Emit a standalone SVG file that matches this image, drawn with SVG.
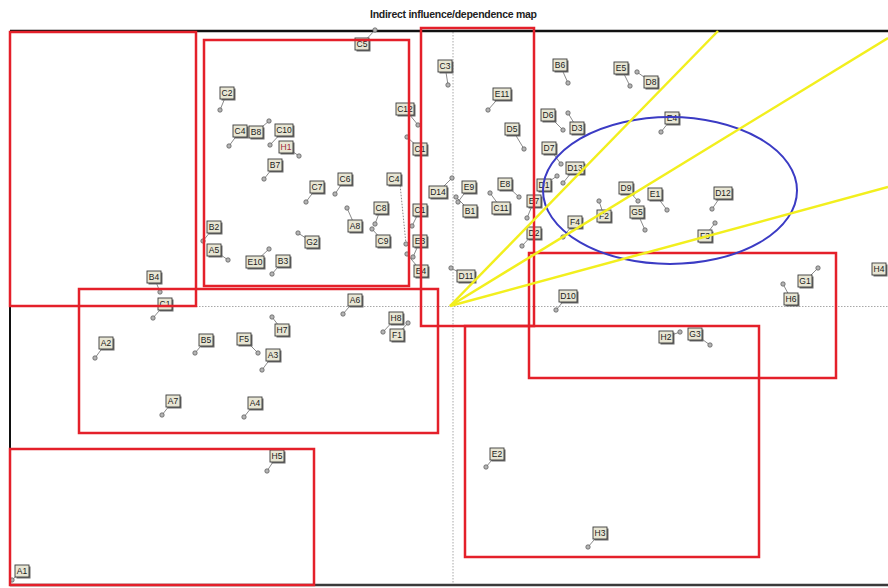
<svg xmlns="http://www.w3.org/2000/svg" xmlns:xlink="http://www.w3.org/1999/xlink" width="888" height="588" viewBox="0 0 888 588">
<style>
.title{font-family:"Liberation Sans",Arial,sans-serif;font-weight:bold;font-size:10.5px;fill:#222}
.axis{stroke:#a8a8a8;stroke-width:1;stroke-dasharray:1.5 1.5;fill:none}
.frame{stroke:#111;stroke-width:2.5;fill:none}
.zone{fill:none;stroke:#e4202a;stroke-width:2.5}
.ell{fill:none;stroke:#3b3bc4;stroke-width:2}
.ray{stroke:#f2ef1e;stroke-width:2.5}
.ld{stroke:#8a8a8a;stroke-width:1}
.ldd{stroke:#8a8a8a;stroke-width:1;stroke-dasharray:1.5 1.5}
.pt{fill:#b4b4b4;stroke:#555;stroke-width:0.7}
.sh{fill:#6e6e6e}
.bx{fill:#e8e6d4;stroke:#3a3a3a;stroke-width:0.9}
.node text{font-family:"Liberation Sans",Arial,sans-serif;font-size:8.5px;fill:#1a1a1a;text-anchor:middle}
.red text{fill:#a02838}
</style>
<defs>
<g id="b2"><rect class="sh" x="-5.5" y="-4.5" width="14" height="12"/><rect class="bx" x="-7" y="-6" width="14" height="12"/></g>
<g id="b3"><rect class="sh" x="-7.5" y="-4.5" width="18" height="12"/><rect class="bx" x="-9" y="-6" width="18" height="12"/></g>
</defs>
<rect width="888" height="588" fill="#fff"/>
<text class="title" x="370" y="18" textLength="167">Indirect influence/dependence map</text>
<g id="axes">
<line class="axis" x1="453" y1="32" x2="453" y2="584"/>
<line class="axis" x1="10" y1="306.5" x2="888" y2="306.5"/>
</g>
<g id="frame">
<line class="frame" x1="10" y1="31" x2="888" y2="31"/>
<line x1="10" y1="31" x2="10" y2="586" stroke="#111" stroke-width="2"/>
<line x1="10" y1="585" x2="888" y2="585" stroke="#3a3a3a" stroke-width="2.5"/>
</g>
<g id="connectors">
<line class="ld" x1="375" y1="30" x2="362" y2="44"/>
<line class="ld" x1="448" y1="85" x2="445" y2="66"/>
<line class="ld" x1="568" y1="83" x2="560" y2="65"/>
<line class="ld" x1="630" y1="86" x2="621" y2="68"/>
<line class="ld" x1="637" y1="72" x2="651" y2="82"/>
<line class="ld" x1="488" y1="110" x2="502" y2="94"/>
<line class="ld" x1="418" y1="125" x2="405" y2="109"/>
<line class="ld" x1="563" y1="130" x2="548" y2="115"/>
<line class="ld" x1="568" y1="113" x2="577" y2="128"/>
<line class="ld" x1="524" y1="149" x2="512" y2="129"/>
<line class="ld" x1="561" y1="164" x2="549" y2="148"/>
<line class="ld" x1="661" y1="132" x2="672" y2="118"/>
<line class="ld" x1="220" y1="110" x2="227" y2="93"/>
<line class="ld" x1="229" y1="146" x2="240" y2="131"/>
<line class="ld" x1="269" y1="121" x2="256" y2="132"/>
<line class="ld" x1="270" y1="145" x2="284" y2="130"/>
<line class="ld" x1="299" y1="156" x2="286" y2="147"/>
<line class="ld" x1="264" y1="179" x2="275" y2="165"/>
<line class="ld" x1="407" y1="137" x2="420" y2="149"/>
<line class="ld" x1="563" y1="183" x2="575" y2="168"/>
<line class="ld" x1="557" y1="176" x2="544" y2="185"/>
<line class="ld" x1="638" y1="201" x2="626" y2="188"/>
<line class="ld" x1="667" y1="210" x2="655" y2="194"/>
<line class="ld" x1="712" y1="209" x2="723" y2="193"/>
<line class="ld" x1="645" y1="230" x2="637" y2="212"/>
<line class="ld" x1="599" y1="201" x2="604" y2="216"/>
<line class="ld" x1="563" y1="237" x2="575" y2="222"/>
<line class="ld" x1="715" y1="223" x2="705" y2="236"/>
<line class="ld" x1="519" y1="197" x2="505" y2="184"/>
<line class="ld" x1="458" y1="202" x2="469" y2="187"/>
<line class="ld" x1="452" y1="178" x2="438" y2="192"/>
<line class="ld" x1="456" y1="197" x2="470" y2="211"/>
<line class="ld" x1="490" y1="193" x2="501" y2="208"/>
<line class="ld" x1="527" y1="218" x2="534" y2="201"/>
<line class="ld" x1="522" y1="246" x2="534" y2="233"/>
<line class="ld" x1="306" y1="202" x2="317" y2="187"/>
<line class="ld" x1="335" y1="194" x2="345" y2="179"/>
<line class="ldd" x1="406" y1="244" x2="400" y2="184"/>
<line class="ld" x1="375" y1="224" x2="381" y2="208"/>
<line class="ld" x1="347" y1="208" x2="355" y2="226"/>
<line class="ld" x1="372" y1="229" x2="383" y2="241"/>
<line class="ld" x1="412" y1="226" x2="420" y2="210"/>
<line class="ld" x1="413" y1="257" x2="420" y2="241"/>
<line class="ld" x1="407" y1="254" x2="421" y2="271"/>
<line class="ld" x1="298" y1="233" x2="312" y2="242"/>
<line class="ld" x1="203" y1="241" x2="214" y2="227"/>
<line class="ld" x1="228" y1="260" x2="214" y2="250"/>
<line class="ld" x1="269" y1="249" x2="255" y2="262"/>
<line class="ld" x1="272" y1="274" x2="283" y2="261"/>
<line class="ld" x1="451" y1="268" x2="466" y2="276"/>
<line class="ld" x1="160" y1="292" x2="154" y2="277"/>
<line class="ld" x1="153" y1="318" x2="165" y2="304"/>
<line class="ld" x1="343" y1="314" x2="355" y2="300"/>
<line class="ld" x1="383" y1="332" x2="396" y2="318"/>
<line class="ld" x1="408" y1="323" x2="397" y2="335"/>
<line class="ld" x1="272" y1="317" x2="282" y2="330"/>
<line class="ld" x1="95" y1="358" x2="106" y2="343"/>
<line class="ld" x1="195" y1="353" x2="206" y2="340"/>
<line class="ld" x1="258" y1="353" x2="244" y2="339"/>
<line class="ld" x1="262" y1="370" x2="273" y2="355"/>
<line class="ld" x1="162" y1="415" x2="173" y2="401"/>
<line class="ld" x1="244" y1="417" x2="255" y2="403"/>
<line class="ld" x1="267" y1="471" x2="277" y2="456"/>
<line class="ld" x1="12" y1="580" x2="22" y2="571"/>
<line class="ld" x1="486" y1="467" x2="497" y2="454"/>
<line class="ld" x1="588" y1="547" x2="600" y2="533"/>
<line class="ld" x1="556" y1="310" x2="568" y2="296"/>
<line class="ld" x1="680" y1="332" x2="666" y2="337"/>
<line class="ld" x1="710" y1="345" x2="695" y2="334"/>
<line class="ld" x1="818" y1="268" x2="805" y2="281"/>
<line class="ld" x1="783" y1="284" x2="791" y2="299"/>
</g>
<g id="nodes">
<g id="n-C5" class="node"><circle class="pt" cx="375" cy="30" r="2.2"/><g transform="translate(362,44)"><use xlink:href="#b2"/><text y="3">C5</text></g></g>
<g id="n-C3" class="node"><circle class="pt" cx="448" cy="85" r="2.2"/><g transform="translate(445,66)"><use xlink:href="#b2"/><text y="3">C3</text></g></g>
<g id="n-B6" class="node"><circle class="pt" cx="568" cy="83" r="2.2"/><g transform="translate(560,65)"><use xlink:href="#b2"/><text y="3">B6</text></g></g>
<g id="n-E5" class="node"><circle class="pt" cx="630" cy="86" r="2.2"/><g transform="translate(621,68)"><use xlink:href="#b2"/><text y="3">E5</text></g></g>
<g id="n-D8" class="node"><circle class="pt" cx="637" cy="72" r="2.2"/><g transform="translate(651,82)"><use xlink:href="#b2"/><text y="3">D8</text></g></g>
<g id="n-E11" class="node"><circle class="pt" cx="488" cy="110" r="2.2"/><g transform="translate(502,94)"><use xlink:href="#b3"/><text y="3">E11</text></g></g>
<g id="n-C12" class="node"><circle class="pt" cx="418" cy="125" r="2.2"/><g transform="translate(405,109)"><use xlink:href="#b3"/><text y="3">C12</text></g></g>
<g id="n-D6" class="node"><circle class="pt" cx="563" cy="130" r="2.2"/><g transform="translate(548,115)"><use xlink:href="#b2"/><text y="3">D6</text></g></g>
<g id="n-D3" class="node"><circle class="pt" cx="568" cy="113" r="2.2"/><g transform="translate(577,128)"><use xlink:href="#b2"/><text y="3">D3</text></g></g>
<g id="n-D5" class="node"><circle class="pt" cx="524" cy="149" r="2.2"/><g transform="translate(512,129)"><use xlink:href="#b2"/><text y="3">D5</text></g></g>
<g id="n-D7" class="node"><circle class="pt" cx="561" cy="164" r="2.2"/><g transform="translate(549,148)"><use xlink:href="#b2"/><text y="3">D7</text></g></g>
<g id="n-E4" class="node"><circle class="pt" cx="661" cy="132" r="2.2"/><g transform="translate(672,118)"><use xlink:href="#b2"/><text y="3">E4</text></g></g>
<g id="n-C2" class="node"><circle class="pt" cx="220" cy="110" r="2.2"/><g transform="translate(227,93)"><use xlink:href="#b2"/><text y="3">C2</text></g></g>
<g id="n-C4" class="node"><circle class="pt" cx="229" cy="146" r="2.2"/><g transform="translate(240,131)"><use xlink:href="#b2"/><text y="3">C4</text></g></g>
<g id="n-B8" class="node"><circle class="pt" cx="269" cy="121" r="2.2"/><g transform="translate(256,132)"><use xlink:href="#b2"/><text y="3">B8</text></g></g>
<g id="n-C10" class="node"><circle class="pt" cx="270" cy="145" r="2.2"/><g transform="translate(284,130)"><use xlink:href="#b3"/><text y="3">C10</text></g></g>
<g id="n-H1" class="node red"><circle class="pt" cx="299" cy="156" r="2.2"/><g transform="translate(286,147)"><use xlink:href="#b2"/><text y="3">H1</text></g></g>
<g id="n-B7" class="node"><circle class="pt" cx="264" cy="179" r="2.2"/><g transform="translate(275,165)"><use xlink:href="#b2"/><text y="3">B7</text></g></g>
<g id="n-C1" class="node"><circle class="pt" cx="407" cy="137" r="2.2"/><g transform="translate(420,149)"><use xlink:href="#b2"/><text y="3">C1</text></g></g>
<g id="n-D13" class="node"><circle class="pt" cx="563" cy="183" r="2.2"/><g transform="translate(575,168)"><use xlink:href="#b3"/><text y="3">D13</text></g></g>
<g id="n-D1" class="node"><circle class="pt" cx="557" cy="176" r="2.2"/><g transform="translate(544,185)"><use xlink:href="#b2"/><text y="3">D1</text></g></g>
<g id="n-D9" class="node"><circle class="pt" cx="638" cy="201" r="2.2"/><g transform="translate(626,188)"><use xlink:href="#b2"/><text y="3">D9</text></g></g>
<g id="n-E1" class="node"><circle class="pt" cx="667" cy="210" r="2.2"/><g transform="translate(655,194)"><use xlink:href="#b2"/><text y="3">E1</text></g></g>
<g id="n-D12" class="node"><circle class="pt" cx="712" cy="209" r="2.2"/><g transform="translate(723,193)"><use xlink:href="#b3"/><text y="3">D12</text></g></g>
<g id="n-G5" class="node"><circle class="pt" cx="645" cy="230" r="2.2"/><g transform="translate(637,212)"><use xlink:href="#b2"/><text y="3">G5</text></g></g>
<g id="n-F2" class="node"><circle class="pt" cx="599" cy="201" r="2.2"/><g transform="translate(604,216)"><use xlink:href="#b2"/><text y="3">F2</text></g></g>
<g id="n-F4" class="node"><circle class="pt" cx="563" cy="237" r="2.2"/><g transform="translate(575,222)"><use xlink:href="#b2"/><text y="3">F4</text></g></g>
<g id="n-F3" class="node"><circle class="pt" cx="715" cy="223" r="2.2"/><g transform="translate(705,236)"><use xlink:href="#b2"/><text y="3">F3</text></g></g>
<g id="n-E8" class="node"><circle class="pt" cx="519" cy="197" r="2.2"/><g transform="translate(505,184)"><use xlink:href="#b2"/><text y="3">E8</text></g></g>
<g id="n-E9" class="node"><circle class="pt" cx="458" cy="202" r="2.2"/><g transform="translate(469,187)"><use xlink:href="#b2"/><text y="3">E9</text></g></g>
<g id="n-D14" class="node"><circle class="pt" cx="452" cy="178" r="2.2"/><g transform="translate(438,192)"><use xlink:href="#b3"/><text y="3">D14</text></g></g>
<g id="n-B1" class="node"><circle class="pt" cx="456" cy="197" r="2.2"/><g transform="translate(470,211)"><use xlink:href="#b2"/><text y="3">B1</text></g></g>
<g id="n-C11" class="node"><circle class="pt" cx="490" cy="193" r="2.2"/><g transform="translate(501,208)"><use xlink:href="#b3"/><text y="3">C11</text></g></g>
<g id="n-E7" class="node"><circle class="pt" cx="527" cy="218" r="2.2"/><g transform="translate(534,201)"><use xlink:href="#b2"/><text y="3">E7</text></g></g>
<g id="n-D2" class="node"><circle class="pt" cx="522" cy="246" r="2.2"/><g transform="translate(534,233)"><use xlink:href="#b2"/><text y="3">D2</text></g></g>
<g id="n-C7" class="node"><circle class="pt" cx="306" cy="202" r="2.2"/><g transform="translate(317,187)"><use xlink:href="#b2"/><text y="3">C7</text></g></g>
<g id="n-C6" class="node"><circle class="pt" cx="335" cy="194" r="2.2"/><g transform="translate(345,179)"><use xlink:href="#b2"/><text y="3">C6</text></g></g>
<g id="n-C4-2" class="node"><circle class="pt" cx="406" cy="244" r="2.2"/><g transform="translate(394,179)"><use xlink:href="#b2"/><text y="3">C4</text></g></g>
<g id="n-C8" class="node"><circle class="pt" cx="375" cy="224" r="2.2"/><g transform="translate(381,208)"><use xlink:href="#b2"/><text y="3">C8</text></g></g>
<g id="n-A8" class="node"><circle class="pt" cx="347" cy="208" r="2.2"/><g transform="translate(355,226)"><use xlink:href="#b2"/><text y="3">A8</text></g></g>
<g id="n-C9" class="node"><circle class="pt" cx="372" cy="229" r="2.2"/><g transform="translate(383,241)"><use xlink:href="#b2"/><text y="3">C9</text></g></g>
<g id="n-C1-2" class="node"><circle class="pt" cx="412" cy="226" r="2.2"/><g transform="translate(420,210)"><use xlink:href="#b2"/><text y="3">C1</text></g></g>
<g id="n-E3" class="node"><circle class="pt" cx="413" cy="257" r="2.2"/><g transform="translate(420,241)"><use xlink:href="#b2"/><text y="3">E3</text></g></g>
<g id="n-E4-2" class="node"><circle class="pt" cx="407" cy="254" r="2.2"/><g transform="translate(421,271)"><use xlink:href="#b2"/><text y="3">E4</text></g></g>
<g id="n-G2" class="node"><circle class="pt" cx="298" cy="233" r="2.2"/><g transform="translate(312,242)"><use xlink:href="#b2"/><text y="3">G2</text></g></g>
<g id="n-B2" class="node"><circle class="pt" cx="203" cy="241" r="2.2"/><g transform="translate(214,227)"><use xlink:href="#b2"/><text y="3">B2</text></g></g>
<g id="n-A5" class="node"><circle class="pt" cx="228" cy="260" r="2.2"/><g transform="translate(214,250)"><use xlink:href="#b2"/><text y="3">A5</text></g></g>
<g id="n-E10" class="node"><circle class="pt" cx="269" cy="249" r="2.2"/><g transform="translate(255,262)"><use xlink:href="#b3"/><text y="3">E10</text></g></g>
<g id="n-B3" class="node"><circle class="pt" cx="272" cy="274" r="2.2"/><g transform="translate(283,261)"><use xlink:href="#b2"/><text y="3">B3</text></g></g>
<g id="n-D11" class="node"><circle class="pt" cx="451" cy="268" r="2.2"/><g transform="translate(466,276)"><use xlink:href="#b3"/><text y="3">D11</text></g></g>
<g id="n-B4" class="node"><circle class="pt" cx="160" cy="292" r="2.2"/><g transform="translate(154,277)"><use xlink:href="#b2"/><text y="3">B4</text></g></g>
<g id="n-C1-3" class="node"><circle class="pt" cx="153" cy="318" r="2.2"/><g transform="translate(165,304)"><use xlink:href="#b2"/><text y="3">C1</text></g></g>
<g id="n-A6" class="node"><circle class="pt" cx="343" cy="314" r="2.2"/><g transform="translate(355,300)"><use xlink:href="#b2"/><text y="3">A6</text></g></g>
<g id="n-H8" class="node"><circle class="pt" cx="383" cy="332" r="2.2"/><g transform="translate(396,318)"><use xlink:href="#b2"/><text y="3">H8</text></g></g>
<g id="n-F1" class="node"><circle class="pt" cx="408" cy="323" r="2.2"/><g transform="translate(397,335)"><use xlink:href="#b2"/><text y="3">F1</text></g></g>
<g id="n-H7" class="node"><circle class="pt" cx="272" cy="317" r="2.2"/><g transform="translate(282,330)"><use xlink:href="#b2"/><text y="3">H7</text></g></g>
<g id="n-A2" class="node"><circle class="pt" cx="95" cy="358" r="2.2"/><g transform="translate(106,343)"><use xlink:href="#b2"/><text y="3">A2</text></g></g>
<g id="n-B5" class="node"><circle class="pt" cx="195" cy="353" r="2.2"/><g transform="translate(206,340)"><use xlink:href="#b2"/><text y="3">B5</text></g></g>
<g id="n-F5" class="node"><circle class="pt" cx="258" cy="353" r="2.2"/><g transform="translate(244,339)"><use xlink:href="#b2"/><text y="3">F5</text></g></g>
<g id="n-A3" class="node"><circle class="pt" cx="262" cy="370" r="2.2"/><g transform="translate(273,355)"><use xlink:href="#b2"/><text y="3">A3</text></g></g>
<g id="n-A7" class="node"><circle class="pt" cx="162" cy="415" r="2.2"/><g transform="translate(173,401)"><use xlink:href="#b2"/><text y="3">A7</text></g></g>
<g id="n-A4" class="node"><circle class="pt" cx="244" cy="417" r="2.2"/><g transform="translate(255,403)"><use xlink:href="#b2"/><text y="3">A4</text></g></g>
<g id="n-H5" class="node"><circle class="pt" cx="267" cy="471" r="2.2"/><g transform="translate(277,456)"><use xlink:href="#b2"/><text y="3">H5</text></g></g>
<g id="n-A1" class="node"><circle class="pt" cx="12" cy="580" r="2.2"/><g transform="translate(22,571)"><use xlink:href="#b2"/><text y="3">A1</text></g></g>
<g id="n-E2" class="node"><circle class="pt" cx="486" cy="467" r="2.2"/><g transform="translate(497,454)"><use xlink:href="#b2"/><text y="3">E2</text></g></g>
<g id="n-H3" class="node"><circle class="pt" cx="588" cy="547" r="2.2"/><g transform="translate(600,533)"><use xlink:href="#b2"/><text y="3">H3</text></g></g>
<g id="n-D10" class="node"><circle class="pt" cx="556" cy="310" r="2.2"/><g transform="translate(568,296)"><use xlink:href="#b3"/><text y="3">D10</text></g></g>
<g id="n-H2" class="node"><circle class="pt" cx="680" cy="332" r="2.2"/><g transform="translate(666,337)"><use xlink:href="#b2"/><text y="3">H2</text></g></g>
<g id="n-G3" class="node"><circle class="pt" cx="710" cy="345" r="2.2"/><g transform="translate(695,334)"><use xlink:href="#b2"/><text y="3">G3</text></g></g>
<g id="n-G1" class="node"><circle class="pt" cx="818" cy="268" r="2.2"/><g transform="translate(805,281)"><use xlink:href="#b2"/><text y="3">G1</text></g></g>
<g id="n-H6" class="node"><circle class="pt" cx="783" cy="284" r="2.2"/><g transform="translate(791,299)"><use xlink:href="#b2"/><text y="3">H6</text></g></g>
<g id="n-H4" class="node"><g transform="translate(879,269)"><use xlink:href="#b2"/><text y="3">H4</text></g></g>
</g>
<g id="zones">
<rect class="zone" x="10" y="32" width="186" height="274"/>
<rect class="zone" x="204" y="40" width="205" height="246"/>
<rect class="zone" x="421" y="28" width="113" height="298"/>
<rect class="zone" x="79" y="289" width="359" height="144"/>
<rect class="zone" x="10" y="449" width="304" height="136"/>
<rect class="zone" x="465" y="326" width="294" height="231"/>
<rect class="zone" x="529" y="253" width="307" height="125"/>
</g>
<ellipse class="ell" cx="670" cy="190.5" rx="127" ry="73.5"/>
<g id="rays">
<line class="ray" x1="450" y1="306" x2="718" y2="31"/>
<line class="ray" x1="450" y1="306" x2="888" y2="38"/>
<line class="ray" x1="450" y1="306" x2="888" y2="187"/>
</g>
</svg>
